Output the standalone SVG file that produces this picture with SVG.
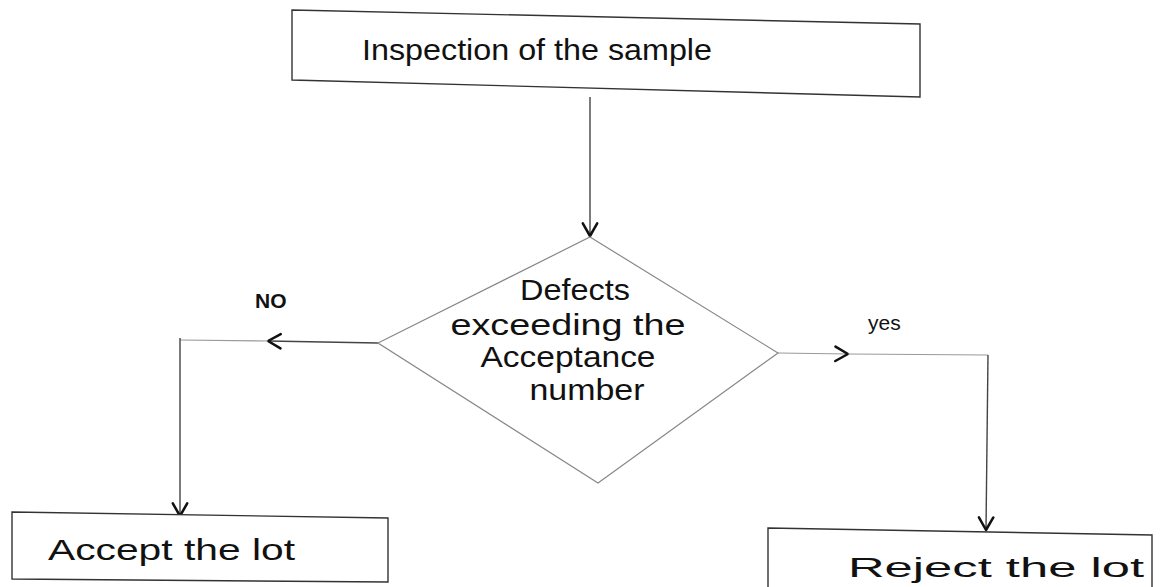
<svg xmlns="http://www.w3.org/2000/svg" width="1161" height="587" viewBox="0 0 1161 587">
  <defs>
    <marker id="vee" viewBox="0 0 20 20" refX="17" refY="10" markerWidth="18" markerHeight="18" markerUnits="userSpaceOnUse" orient="auto">
      <path d="M3,2 L17,10 L3,18" fill="none" stroke="#111" stroke-width="2.8" stroke-linecap="round" stroke-linejoin="round"/>
    </marker>
    <style>
      .box { fill: #fff; stroke: #333; stroke-width: 1.4; }
      .dia { fill: #fff; stroke: #888; stroke-width: 1.2; }
      .wire { fill: none; stroke: #444; stroke-width: 1.4; }
      .faint { fill: none; stroke: #999; stroke-width: 1.2; }
      .lbl { font-family: "Liberation Sans", Arial, sans-serif; font-size: 29px; fill: #111; }
      .tag { font-family: "Liberation Sans", Arial, sans-serif; font-size: 21px; fill: #111; }
      .bold { font-weight: bold; }
    </style>
  </defs>
  <rect width="1161" height="587" fill="#fff"/>

  <!-- connectors -->
  <g id="connectors">
    <path class="wire" d="M590,97 L590,236" marker-end="url(#vee)"/>
    <path class="wire" d="M378,343 L268,341" marker-end="url(#vee)"/>
    <path class="faint" d="M268,341 L180,340"/>
    <path class="wire" d="M180,338 L180,516" marker-end="url(#vee)"/>
    <path class="faint" d="M778,353 L848,354" marker-end="url(#vee)"/>
    <path class="faint" d="M848,354 L988,355"/>
    <path class="wire" d="M988,355 L986,530" marker-end="url(#vee)"/>
    <text class="tag bold" x="255" y="308">NO</text>
    <text class="tag" x="868" y="330">yes</text>
  </g>

  <g id="inspection">
    <polygon class="box" points="292,10 920,24 920,97 292,80"/>
    <text class="lbl" x="362" y="60" textLength="350" lengthAdjust="spacingAndGlyphs">Inspection of the sample</text>
  </g>

  <g id="decision">
    <polygon class="dia" points="590,237 778,353 598,483 378,343"/>
    <text class="lbl" x="575" y="300" text-anchor="middle" textLength="110" lengthAdjust="spacingAndGlyphs">Defects</text>
    <text class="lbl" x="568" y="335" text-anchor="middle" textLength="235" lengthAdjust="spacingAndGlyphs">exceeding the</text>
    <text class="lbl" x="568" y="367" text-anchor="middle" textLength="175" lengthAdjust="spacingAndGlyphs">Acceptance</text>
    <text class="lbl" x="587" y="400" text-anchor="middle" textLength="115" lengthAdjust="spacingAndGlyphs">number</text>
  </g>

  <g id="accept">
    <polygon class="box" points="12,512 388,518 388,582 12,579"/>
    <text class="lbl" x="48" y="560" textLength="247" lengthAdjust="spacingAndGlyphs">Accept the lot</text>
  </g>

  <g id="reject">
    <polygon class="box" points="768,528 1152,535 1152,600 768,600"/>
    <text class="lbl" x="848" y="577" style="font-size:27px" textLength="296" lengthAdjust="spacingAndGlyphs">Reject the lot</text>
  </g>
</svg>
